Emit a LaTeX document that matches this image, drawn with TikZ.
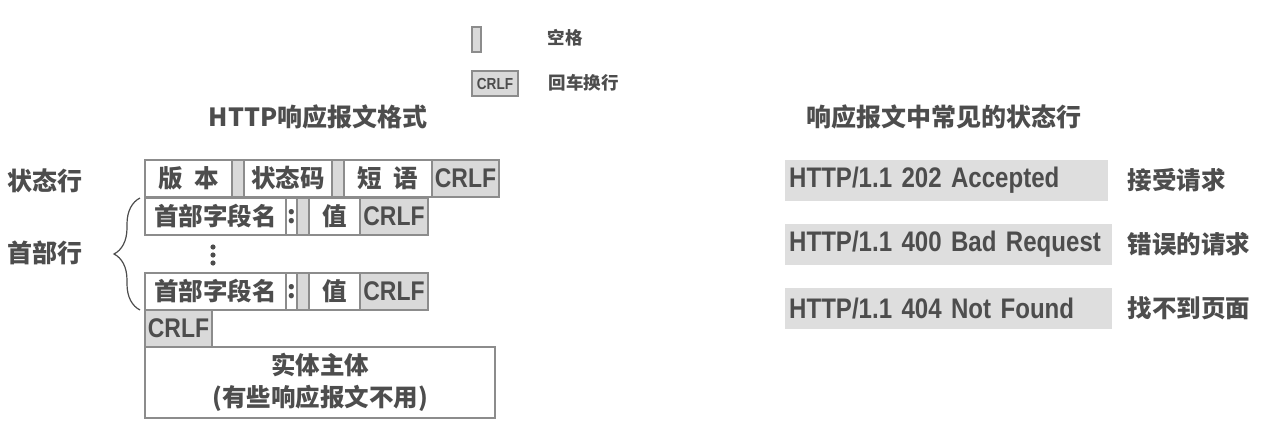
\documentclass[tikz,border=0pt]{standalone}
\usepackage{fontspec}
\setmainfont{Noto Sans CJK SC}
\newfontfamily\latfont{Liberation Sans}[FakeStretch=0.85]
\usetikzlibrary{positioning,decorations.pathreplacing}
\definecolor{txtgray}{HTML}{4D4D4D}
\definecolor{linegray}{HTML}{8C8C8C}
\definecolor{cellgray}{HTML}{D9D9D9}
\definecolor{barfill}{HTML}{DEDEDE}

\begin{document}
\begin{tikzpicture}[x=1pt, y=-1pt,
    every node/.style={text=txtgray, font=\bfseries\fontsize{24.5}{32}\selectfont},
    cell/.style={rectangle, draw=linegray, line width=1.2pt, fill=white, minimum height=37pt,
        inner sep=0pt, outer sep=0pt, anchor=west},
    gap/.style={cell, fill=cellgray, minimum width=12pt},
    crlf/.style={cell, fill=cellgray, minimum width=67pt, font=\latfont\bfseries\fontsize{27}{30}\selectfont},
    statbar/.style={rectangle, fill=barfill, minimum height=41pt, inner xsep=4pt, inner ysep=0pt,
        anchor=west, align=left, font=\latfont\bfseries\fontsize{28.3}{32}\selectfont},
    meaning/.style={anchor=west},
    small/.style={font=\bfseries\fontsize{17.5}{20}\selectfont}
]
\fill[white] (0,0) rectangle (1278,442);
\useasboundingbox (0,0) rectangle (1278,442);

% legend
\node[gap, minimum width=9pt, minimum height=25pt, anchor=center] (lgsp) at (476.5,39.5) {};
\node[small, anchor=west] (lgsptxt) at (544,38) {空格};
\node[crlf, minimum width=46pt, minimum height=25pt, anchor=center,
    font=\latfont\bfseries\fontsize{16}{18}\selectfont] (lgcrlf) at (495,83.5) {CRLF};
\node[small, anchor=west] (lgcrlftxt) at (545,83) {回车换行};

% titles
\node[font=\bfseries\fontsize{25}{30}\selectfont] (ltitle) at (318,117) {HTTP响应报文格式};
\node[font=\bfseries\fontsize{25}{30}\selectfont] (rtitle) at (944,117) {响应报文中常见的状态行};

% status line
\node[font=\bfseries\fontsize{25}{30}\selectfont] (statlbl) at (45,181) {状态行};
\node[cell, minimum width=87pt] (ver) at (145,178.5) {版\hspace{12pt}本};
\node[gap, right=0pt of ver] (sp1) {};
\node[cell, minimum width=88pt, right=0pt of sp1] (code) {状态码};
\node[gap, right=0pt of code] (sp2) {};
\node[cell, minimum width=88pt, right=0pt of sp2] (phrase) {短\hspace{12pt}语};
\node[crlf, right=0pt of phrase] (crlf0) {CRLF};

% header lines
\node[cell, minimum width=141pt] (name1) at (145,216.5) {首部字段名};
\node[cell, minimum width=11pt, right=0pt of name1] (colon1) {:};
\node[gap, right=0pt of colon1] (sp3) {};
\node[cell, minimum width=51pt, right=0pt of sp3] (val1) {值};
\node[crlf, minimum width=68pt, right=0pt of val1] (crlf1) {CRLF};

\foreach \y in {247,255,263}
    \fill[txtgray] (213,\y) circle (2.6pt);

\node[cell, minimum width=141pt] (name2) at (145,291.5) {首部字段名};
\node[cell, minimum width=11pt, right=0pt of name2] (colon2) {:};
\node[gap, right=0pt of colon2] (sp4) {};
\node[cell, minimum width=51pt, right=0pt of sp4] (val2) {值};
\node[crlf, minimum width=68pt, right=0pt of val2] (crlf2) {CRLF};

\node[font=\bfseries\fontsize{25}{30}\selectfont] (headlbl) at (45,253) {首部行};
\draw[txtgray, line width=1.2pt, decorate, decoration={brace, amplitude=26pt}]
    ([xshift=-5pt]name2.south west) -- ([xshift=-5pt]name1.north west);

% empty line and body
\node[crlf] (crlf3) at (145,328.5) {CRLF};
\node[cell, minimum width=350pt, minimum height=71pt, align=center] (body) at (145,382.5)
    {实体主体\\(有些响应报文不用)};

% common status lines
\node[statbar, text width=315pt] (s202) at (785,180.5) {\mbox{HTTP/1.1 202 Accepted}};
\node[statbar, text width=319pt] (s400) at (785,244.5) {\mbox{HTTP/1.1 400 Bad Request}};
\node[statbar, text width=319pt] (s404) at (785,308.5) {\mbox{HTTP/1.1 404 Not Found}};
\node[meaning, right=16pt of s202] (m202) {接受请求};
\node[meaning, right=12pt of s400] (m400) {错误的请求};
\node[meaning, right=12pt of s404] (m404) {找不到页面};
\end{tikzpicture}
\end{document}
